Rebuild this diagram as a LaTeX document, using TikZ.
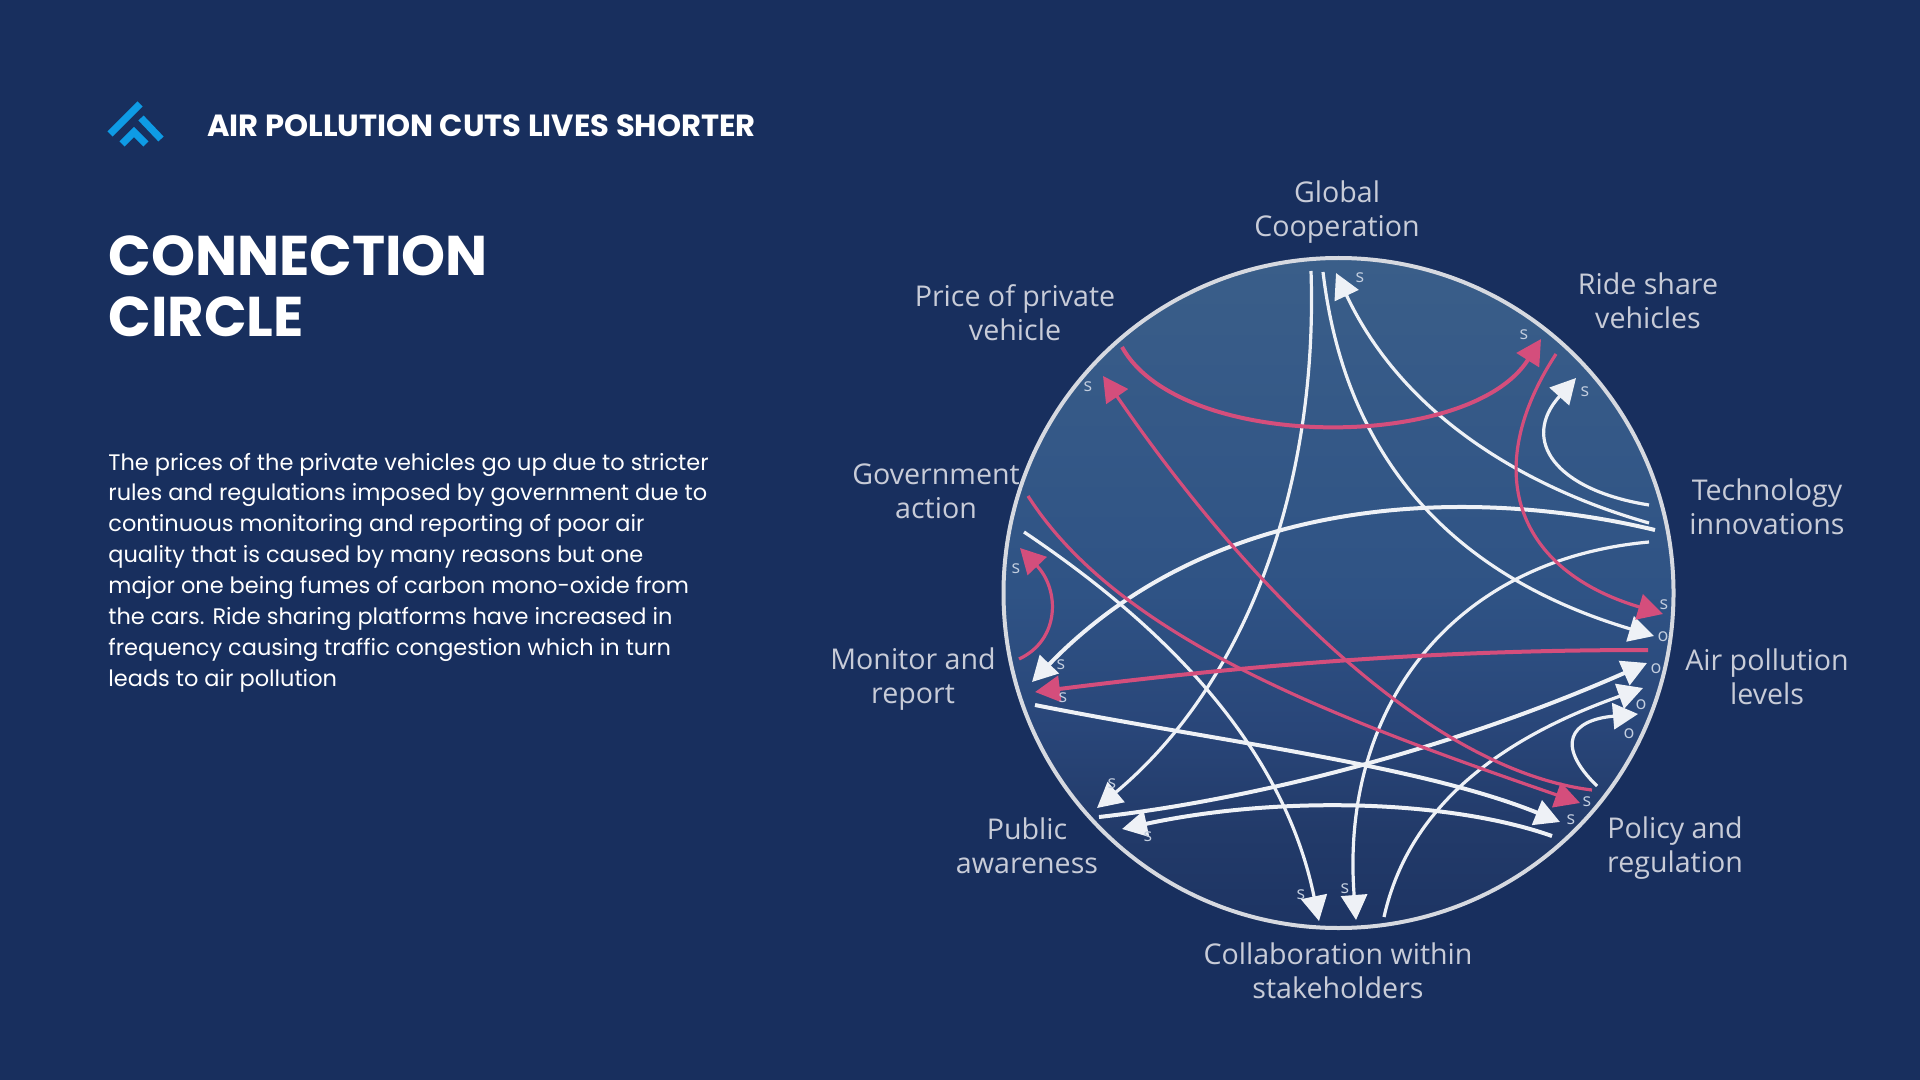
\documentclass[tikz,border=0pt]{standalone}
\usepackage{fontspec}
\setmainfont{Poppins}
\newfontfamily\labelfont{Open Sans}
\usetikzlibrary{arrows.meta,positioning,calc}
\definecolor{pagebg}{HTML}{182F5E}
\definecolor{disctop}{HTML}{3A5E89}
\definecolor{discmid}{HTML}{2F5385}
\definecolor{discmidb}{HTML}{294679}
\definecolor{disclow}{HTML}{223A69}
\definecolor{discbot}{HTML}{1D3463}
\definecolor{ringcol}{HTML}{D6D9E0}
\definecolor{linkwhite}{HTML}{EEF1F6}
\definecolor{linkred}{HTML}{D44E7C}
\definecolor{factorcol}{HTML}{C8CCD8}
\definecolor{polcol}{HTML}{C3CEDF}
\definecolor{logoblue}{HTML}{0E9BE5}
\pgfdeclareverticalshading{discshade}{100bp}{color(0bp)=(discbot); color(25bp)=(discbot); color(32bp)=(disclow); color(40bp)=(discmidb); color(50bp)=(discmid); color(75bp)=(disctop); color(100bp)=(disctop)}
\tikzset{
	disc/.style = {
		circle,
		draw=ringcol,
		line width=2pt,
		inner sep=0pt,
		minimum size=335pt,
		shade,
		shading=discshade
	},
	link/.style = {
		-{Triangle[length=12.5pt,width=13pt]},
		line width=1.6pt,
		color=linkwhite
	},
	redlink/.style = {
		link,
		color=linkred
	},
	heavy/.style = {
		line width=2pt
	},
	factor/.style = {
		font=\labelfont\fontsize{14.3}{17}\selectfont,
		text=factorcol,
		align=center
	},
	polarity/.style = {
		font=\labelfont\fontsize{9}{11}\selectfont,
		text=polcol,
		inner sep=0pt
	},
	logostroke/.style = {
		draw=logoblue,
		line width=3.6pt
	}
}
\begin{document}
\begin{tikzpicture}[x=0.5pt,y=-0.5pt]
	
	% --- Background ---
	\fill[pagebg] (0,0) rectangle (1920,1080);
	\useasboundingbox (0,0) rectangle (1920,1080);
	
	% --- Logo ---
	\draw[logostroke] (110,134) -- (140,104);
	\draw[logostroke] (141,118) -- (161,139);
	\draw[logostroke] (122,144) -- (134,132) -- (146,144);
	
	% --- Texts on the left ---
	\node[anchor=west, text=white, inner sep=0pt, font=\bfseries\fontsize{15.3}{18}\selectfont] (header) at (207,126) {AIR POLLUTION CUTS LIVES SHORTER};
	\node[anchor=west, text=white, inner sep=0pt, align=left, font=\bfseries\fontsize{28}{30.6}\selectfont] (title) at (108,286) {CONNECTION \\ CIRCLE};
	\node[anchor=west, text=white, inner sep=0pt, align=left, font=\fontsize{11.23}{15.45}\selectfont] (story) at (108,572.5) {The prices of the private vehicles go up due to stricter \\ rules and regulations imposed by government due to \\ continuous monitoring and reporting of poor air \\ quality that is caused by many reasons but one \\ major one being fumes of carbon mono-oxide from \\ the cars. Ride sharing platforms have increased in \\ frequency causing traffic congestion which in turn \\ leads to air pollution};
	
	% --- Circle and factors ---
	\node[disc] (ring) at (1338.5,593) {};
	
	\node[factor] (global) at (1337,212) {Global \\ Cooperation};
	\node[factor] (rideshare) at (1648,301) {Ride share \\ vehicles};
	\node[factor] (tech) at (1767,507) {Technology \\ innovations};
	\node[factor] (airlevel) at (1767,677) {Air pollution \\ levels};
	\node[factor] (policy) at (1675,848) {Policy and \\ regulation};
	\node[factor] (collab) at (1338,971) {Collaboration within \\ stakeholders};
	\node[factor] (public) at (1027,846) {Public \\ awareness};
	\node[factor] (monitor) at (913,679) {Monitor and \\ report};
	\node[factor] (govt) at (936,491) {Government \\ action};
	\node[factor] (price) at (1015,313) {Price of private \\ vehicle};
	
	% --- Ends of the connectors ---
	\coordinate (globalA) at (1311,271);
	\coordinate (globalB) at (1323,272);
	\coordinate (globalC) at (1336,273);
	\coordinate (rideA) at (1541,339);
	\coordinate (rideB) at (1556,354);
	\coordinate (rideC) at (1576,378);
	\coordinate (techA) at (1649,505);
	\coordinate (techB) at (1649,523);
	\coordinate (techC) at (1655,530);
	\coordinate (techD) at (1649,542);
	\coordinate (airA) at (1663,614);
	\coordinate (airB) at (1654,636);
	\coordinate (airC) at (1648,650);
	\coordinate (airD) at (1647,663);
	\coordinate (airE) at (1643,688);
	\coordinate (airF) at (1638,714);
	\coordinate (policyA) at (1597,786);
	\coordinate (policyB) at (1592,790);
	\coordinate (policyC) at (1580,803);
	\coordinate (policyD) at (1560,822);
	\coordinate (policyE) at (1552,836);
	\coordinate (collabA) at (1384,917);
	\coordinate (collabB) at (1356,920);
	\coordinate (collabC) at (1319,921);
	\coordinate (publicA) at (1122,829);
	\coordinate (publicB) at (1099,817);
	\coordinate (publicC) at (1097,808);
	\coordinate (monitorA) at (1035,705);
	\coordinate (monitorB) at (1035,692);
	\coordinate (monitorC) at (1032,682);
	\coordinate (monitorD) at (1019,659);
	\coordinate (govtA) at (1020,548);
	\coordinate (govtB) at (1024,532);
	\coordinate (govtC) at (1028,496);
	\coordinate (priceA) at (1103,376);
	\coordinate (priceB) at (1122,347);
	
	% --- White connectors ---
	\draw[link] (globalA) .. controls (1318,480) and (1250,680) .. (publicC);
	\draw[link] (globalB) .. controls (1350,500) and (1500,590) .. (airB);
	\draw[link] (techB) .. controls (1550,495) and (1410,430) .. (globalC);
	\draw[link] (techA) .. controls (1555,490) and (1520,440) .. (rideC);
	\draw[link,heavy] (techC) .. controls (1480,488) and (1220,488) .. (monitorC);
	\draw[link] (techD) .. controls (1450,560) and (1340,710) .. (collabB);
	\draw[link] (govtB) .. controls (1140,610) and (1280,730) .. (collabC);
	\draw[link,heavy] (monitorA) .. controls (1210,740) and (1420,765) .. (policyD);
	\draw[link,heavy] (publicB) .. controls (1250,800) and (1450,750) .. (airD);
	\draw[link,heavy] (policyE) .. controls (1450,800) and (1280,795) .. (publicA);
	\draw[link] (collabA) .. controls (1410,800) and (1510,735) .. (airE);
	\draw[link] (policyA) .. controls (1555,745) and (1570,720) .. (airF);
	
	% --- Red connectors ---
	\draw[redlink,heavy] (priceB) .. controls (1180,452) and (1470,452) .. (rideA);
	\draw[redlink] (policyB) .. controls (1430,770) and (1250,590) .. (priceA);
	\draw[redlink] (govtC) .. controls (1120,640) and (1340,720) .. (policyC);
	\draw[redlink] (monitorD) .. controls (1060,640) and (1060,590) .. (govtA);
	\draw[redlink,heavy] (airC) .. controls (1430,650) and (1250,665) .. (monitorB);
	\draw[redlink] (rideB) .. controls (1480,470) and (1515,570) .. (airA);
	
	% --- Polarity marks ---
	\node[polarity] (sA) at (1360,278) {s};
	\node[polarity] (sB) at (1524,335) {s};
	\node[polarity] (sC) at (1585,392) {s};
	\node[polarity] (sD) at (1088,387) {s};
	\node[polarity] (sE) at (1016,569) {s};
	\node[polarity] (sF) at (1664,605) {s};
	\node[polarity] (sG) at (1061,665) {s};
	\node[polarity] (sH) at (1063,698) {s};
	\node[polarity] (sI) at (1112,784) {s};
	\node[polarity] (sJ) at (1148,837) {s};
	\node[polarity] (sK) at (1301,895) {s};
	\node[polarity] (sL) at (1345,889) {s};
	\node[polarity] (sM) at (1571,820) {s};
	\node[polarity] (sN) at (1587,802) {s};
	\node[polarity] (oA) at (1663,637) {o};
	\node[polarity] (oB) at (1656,669) {o};
	\node[polarity] (oC) at (1641,705) {o};
	\node[polarity] (oD) at (1629,734) {o};
	
\end{tikzpicture}
\end{document}
